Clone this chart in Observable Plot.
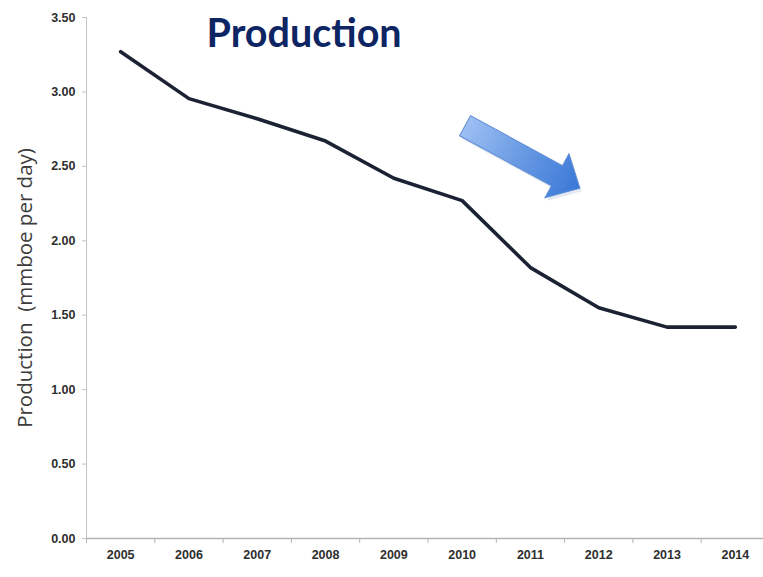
<!DOCTYPE html>
<html>
<head>
<meta charset="utf-8">
<script src="https://cdn.jsdelivr.net/npm/d3@7"></script>
<script src="https://cdn.jsdelivr.net/npm/@observablehq/plot@0.6"></script>
<style>
  html, body { margin: 0; padding: 0; background: #fff; }
  #chart { width: 763px; height: 577px; }
</style>
</head>
<body>
<div id="chart"></div>
<script>
const years = [2005, 2006, 2007, 2008, 2009, 2010, 2011, 2012, 2013, 2014];
const production = [3.27, 2.955, 2.82, 2.67, 2.42, 2.27, 1.82, 1.55, 1.42, 1.42];
const yTicks = [0, 0.5, 1.0, 1.5, 2.0, 2.5, 3.0, 3.5];
const xBoundaries = [2004.5, 2005.5, 2006.5, 2007.5, 2008.5, 2009.5, 2010.5, 2011.5, 2012.5, 2013.5];
const titleText = "Production";
const yLabel = "Production  (mmboe per day)";
// trend arrow annotation (data coords): tail and tip
const arrowTail = {x: 2010.05, y: 2.77};
const arrowTip = {x: 2011.73, y: 2.35};

const data = years.map((year, i) => ({year, value: production[i]}));

function trendArrow(index, scales) {
  const ns = "http://www.w3.org/2000/svg";
  const g = document.createElementNS(ns, "g");
  const x0 = scales.x(arrowTail.x), y0 = scales.y(arrowTail.y);
  const x1 = scales.x(arrowTip.x), y1 = scales.y(arrowTip.y);
  const L = Math.hypot(x1 - x0, y1 - y0);
  const ang = Math.atan2(y1 - y0, x1 - x0) * 180 / Math.PI;
  const defs = document.createElementNS(ns, "defs");
  defs.innerHTML = `<linearGradient id="arrGrad" x1="0" y1="0" x2="1" y2="0">
      <stop offset="0" stop-color="#9dbff3"/>
      <stop offset="0.5" stop-color="#6799e3"/>
      <stop offset="1" stop-color="#3a78d6"/>
    </linearGradient>`;
  g.appendChild(defs);
  const hw = 11.5, hh = 25, hl = 26;
  const d = `M0,${-hw} L${L - hl},${-hw} L${L - hl},${-hh} L${L},0 L${L - hl},${hh} L${L - hl},${hw} L0,${hw} Z`;
  const shadow = document.createElementNS(ns, "path");
  shadow.setAttribute("d", d);
  shadow.setAttribute("fill", "#c8d4e6");
  shadow.setAttribute("opacity", "0.5");
  shadow.setAttribute("transform", `translate(${x0 + 2},${y0 + 3}) rotate(${ang})`);
  g.appendChild(shadow);
  const p = document.createElementNS(ns, "path");
  p.setAttribute("d", d);
  p.setAttribute("fill", "url(#arrGrad)");
  p.setAttribute("stroke", "#5b8bd3");
  p.setAttribute("stroke-width", "1");
  p.setAttribute("transform", `translate(${x0},${y0}) rotate(${ang})`);
  g.appendChild(p);
  return g;
}

const chart = Plot.plot({
  width: 763,
  height: 577,
  marginLeft: 86,
  marginRight: 0,
  marginTop: 17,
  marginBottom: 39,
  style: {fontFamily: "'Liberation Sans Narrow', 'Liberation Sans', sans-serif", background: "#fff"},
  x: {type: "linear", domain: [2004.5, 2014.5], range: [86, 769]},
  y: {type: "linear", domain: [0, 3.5], range: [538, 17]},
  marks: [
    Plot.ruleY([0], {stroke: "#b5b5b5", strokeWidth: 1.5}),
    Plot.ruleX([2004.5], {stroke: "#c4c4c4", strokeWidth: 1}),
    Plot.axisX({ticks: xBoundaries, tickSize: 5, tickFormat: () => "", stroke: "#b5b5b5", label: null}),
    Plot.axisX({ticks: years, tickSize: 0, tickPadding: 12, tickFormat: d => String(d), fontSize: 12.5, fontWeight: "bold", fill: "#2e2e2e", label: null}),
    Plot.axisY({ticks: yTicks, tickSize: 4, tickPadding: 7, tickFormat: d3.format(".2f"), fontSize: 12.5, fontWeight: "bold", stroke: "#c4c4c4", fill: "#2e2e2e", label: null}),
    Plot.text([yLabel], {frameAnchor: "left", textAnchor: "middle", dx: -61, dy: 10, rotate: -90, fontSize: 20.5, fill: "#3c3c3c", fontFamily: "'Open Sans', sans-serif"}),
    Plot.line(data, {x: "year", y: "value", stroke: "#1b2233", strokeWidth: 3.6, curve: "linear", strokeLinejoin: "round"}),
    trendArrow,
    Plot.text([titleText], {frameAnchor: "top-left", dx: 120, dy: 1, lineAnchor: "top", textAnchor: "start", fontSize: 39.5, fontWeight: "bold", fill: "#0d2562", fontFamily: "Lato, sans-serif"})
  ]
});
document.getElementById("chart").appendChild(chart);
</script>
</body>
</html>
